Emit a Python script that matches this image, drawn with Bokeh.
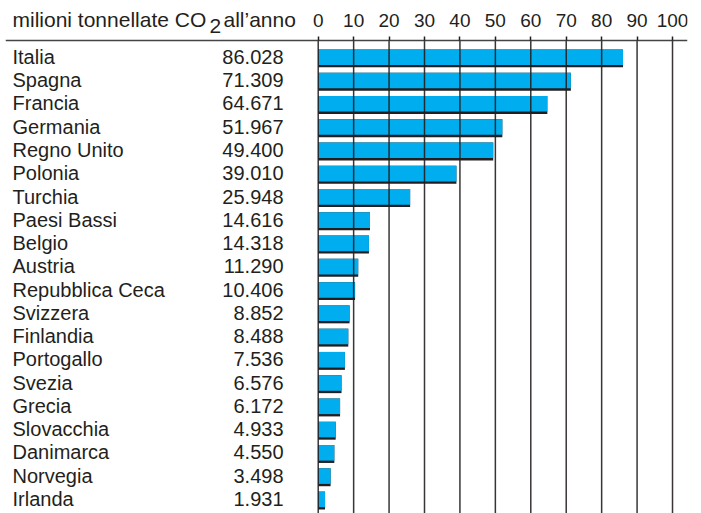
from bokeh.plotting import figure
from bokeh.models import ColumnDataSource, FixedTicker, Range1d
from bokeh.transform import dodge
from bokeh.core.properties import value
from bokeh.embed import file_html
from bokeh.resources import INLINE

countries = ["Italia", "Spagna", "Francia", "Germania", "Regno Unito", "Polonia",
             "Turchia", "Paesi Bassi", "Belgio", "Austria", "Repubblica Ceca",
             "Svizzera", "Finlandia", "Portogallo", "Svezia", "Grecia",
             "Slovacchia", "Danimarca", "Norvegia", "Irlanda"]
values = [86.028, 71.309, 64.671, 51.967, 49.400, 39.010, 25.948, 14.616, 14.318,
          11.290, 10.406, 8.852, 8.488, 7.536, 6.576, 6.172, 4.933, 4.550, 3.498, 1.931]
ticks = [0, 10, 20, 30, 40, 50, 60, 70, 80, 90, 100]

FONT = "Liberation Sans"
INK = "#231f20"
CYAN = "#00aeef"

# layout (row index space): header rule sits just above the first row
AXIS_Y = -0.748
Y_TOP = -2.488
Y_BOTTOM = 19.557

src = ColumnDataSource(dict(
    idx=list(range(len(countries))),
    country=countries,
    value=values,
    zero=[0] * len(values),
    label=[f"{v:.3f}" for v in values],
))
grid_src = ColumnDataSource(dict(
    x=ticks,
    y0=[AXIS_Y] * len(ticks),
    y1=[Y_BOTTOM] * len(ticks),
))

p = figure(width=701, height=513, output_backend="svg", toolbar_location=None,
           x_range=Range1d(-88.26, 104.23), y_range=Range1d(Y_BOTTOM, Y_TOP),
           x_axis_location="above", y_axis_location=None,
           min_border_left=5, min_border_right=14, min_border_bottom=0, min_border_top=0)
p.outline_line_color = None
p.background_fill_color = "white"
p.border_fill_color = "white"
p.xgrid.visible = False
p.ygrid.visible = False

# axis drawn inside the frame on the header rule
ax = p.xaxis[0]
ax.fixed_location = AXIS_Y
ax.ticker = FixedTicker(ticks=ticks)
ax.axis_line_color = "#444444"
ax.axis_line_width = 1.5
ax.major_tick_line_color = INK
ax.major_tick_line_width = 1.5
ax.major_tick_out = 4
ax.major_tick_in = 0
ax.minor_tick_line_color = None
ax.major_label_text_font = FONT
ax.major_label_text_font_size = "19px"
ax.major_label_text_color = INK
ax.major_label_standoff = 10

# bars: dark shadow beneath, cyan on top
p.hbar(y="idx", left="zero", right="value", height=0.77, source=src,
       fill_color=INK, line_color=None)
p.hbar(y=dodge("idx", -0.05, range=p.y_range), left="zero", right="value",
       height=0.67, source=src, fill_color=CYAN, line_color=None)

# vertical grid lines drawn over the bars
p.segment(x0="x", x1="x", y0="y0", y1="y1", source=grid_src,
          line_color=INK, line_width=1.5, line_alpha=0.9)

# text columns
p.text(x="zero", y="idx", text="country", source=src, x_offset=-305.7, y_offset=-1.5,
       text_font=value(FONT), text_font_size="20px", text_color=INK,
       text_align="left", text_baseline="alphabetic")
p.text(x="zero", y="idx", text="label", source=src, x_offset=-34.7, y_offset=-1.5,
       text_font=value(FONT), text_font_size="20px", text_color=INK,
       text_align="right", text_baseline="alphabetic")

# header
hdr = dict(text_font=value(FONT), text_font_size="21px", text_color=INK,
           text_align="left", text_baseline="alphabetic")
p.text(x=[0], y=[AXIS_Y], text=["milioni tonnellate CO"], x_offset=-305.7, y_offset=-21.5, **hdr)
p.text(x=[0], y=[AXIS_Y], text=["2"], x_offset=-108.7, y_offset=-14.5, **hdr)
p.text(x=[0], y=[AXIS_Y], text=["all\u2019anno"], x_offset=-94.7, y_offset=-21.5, **hdr)

open("out.html", "w").write(file_html(p, INLINE))
